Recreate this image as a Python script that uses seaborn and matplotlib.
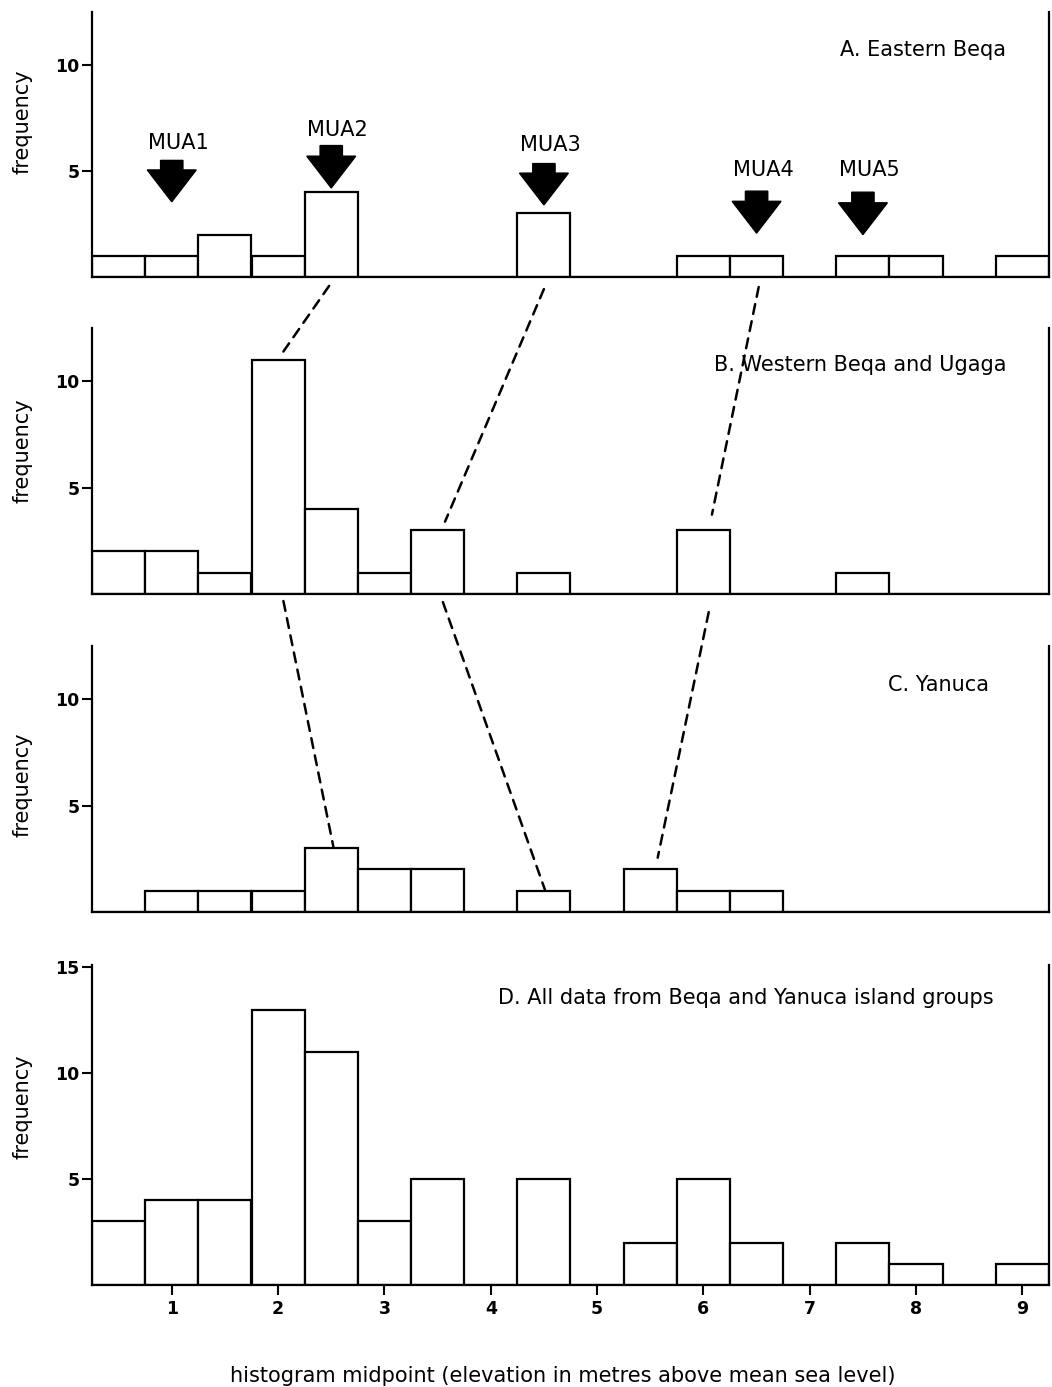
"""Elevation histograms of notches for Beqa and Yanuca island groups."""

import numpy as np
import matplotlib.pyplot as plt
from matplotlib.patches import ConnectionPatch
import seaborn as sns

# histogram midpoints (m above mean sea level), bin width 0.5
midpoints = [0.5, 1.0, 1.5, 2.0, 2.5, 3.0, 3.5, 4.0, 4.5,
             5.0, 5.5, 6.0, 6.5, 7.0, 7.5, 8.0, 8.5, 9.0]

eastern_beqa = [1, 1, 2, 1, 4, 0, 0, 0, 3, 0, 0, 1, 1, 0, 1, 1, 0, 1]
western_beqa = [2, 2, 1, 11, 4, 1, 3, 0, 1, 0, 0, 3, 0, 0, 1, 0, 0, 0]
yanuca = [0, 1, 1, 1, 3, 2, 2, 0, 1, 0, 2, 1, 1, 0, 0, 0, 0, 0]
all_data = [3, 4, 4, 13, 11, 3, 5, 0, 5, 0, 2, 5, 2, 0, 2, 1, 0, 1]

panel_titles = ["A. Eastern Beqa",
                "B. Western Beqa and Ugaga",
                "C. Yanuca",
                "D. All data from Beqa and Yanuca island groups"]
panel_counts = [eastern_beqa, western_beqa, yanuca, all_data]
panel_title_y = [10.7, 10.75, 10.66, 13.54]
panel_title_x = [8.85, 8.85, 8.69, 8.73]
panel_ylabel_y = [0.585, 0.54, 0.48, 0.556]

# MUA arrows in panel A: label, x, arrow top, arrow tip, label height
mua_labels = ["MUA1", "MUA2", "MUA3", "MUA4", "MUA5"]
mua_x = [1.0, 2.5, 4.5, 6.5, 7.5]
mua_top = [5.5, 6.2, 5.35, 4.05, 4.0]
mua_tip = [3.55, 4.2, 3.4, 2.07, 2.0]
mua_label_y = [6.3, 6.93, 6.23, 5.05, 5.05]

# dashed correlation lines: (upper panel, x, y) -> (lower panel, x, y)
links = [
    (0, 2.48, -0.42, 1, 2.02, 11.18),
    (0, 4.50, -0.57, 1, 3.57, 3.40),
    (0, 6.52, -0.47, 1, 6.08, 3.73),
    (1, 2.05, -0.33, 2, 2.52, 3.07),
    (1, 3.55, -0.38, 2, 4.51, 1.04),
    (1, 6.05, -0.85, 2, 5.57, 2.55),
]

sns.set_style("ticks", rc={"text.color": "black", "axes.labelcolor": "black",
                           "xtick.color": "black", "ytick.color": "black",
                           "axes.edgecolor": "black"})
plt.rcParams["font.family"] = ["DejaVu Sans"]

W, H = 1052, 1387
fig = plt.figure(figsize=(W / 100, H / 100), dpi=100)

left, width = 92 / W, 957 / W
boxes = [(12, 277), (328, 594), (646, 912), (965, 1285)]
axes = []
for top, bottom in boxes:
    axes.append(fig.add_axes([left, 1 - bottom / H, width, (bottom - top) / H]))

for i, ax in enumerate(axes):
    sns.histplot(x=midpoints, weights=panel_counts[i], binwidth=0.5,
                 binrange=(0.25, 9.25), ax=ax, color="white",
                 edgecolor="black", linewidth=1.6, alpha=1)
    ax.set_xlim(0.25, 9.25)
    if i < 3:
        ax.set_ylim(0, 12.5)
        ax.set_yticks([5, 10])
        ax.tick_params(axis="x", bottom=False, labelbottom=False)
    else:
        ax.set_ylim(0, 15.1)
        ax.set_yticks([5, 10, 15])
        ax.set_xticks(range(1, 10))
        ax.tick_params(axis="x", length=7, width=1.5, pad=4, labelsize=12.5)
        for lab in ax.get_xticklabels():
            lab.set_fontweight("bold")
    ax.set_xlabel("")
    ax.tick_params(axis="y", length=7, width=1.5, pad=2, labelsize=12.5)
    for lab in ax.get_yticklabels():
        lab.set_fontweight("bold")
    ax.set_ylabel("frequency", fontsize=15)
    ax.yaxis.set_label_coords(-0.062, panel_ylabel_y[i])
    ax.spines["top"].set_visible(False)
    for side in ["left", "right", "bottom"]:
        ax.spines[side].set_linewidth(1.6)
    ax.text(panel_title_x[i], panel_title_y[i], panel_titles[i],
            ha="right", va="center", fontsize=15)

fig.text(563 / W, 1 - 1376 / H,
         "histogram midpoint (elevation in metres above mean sea level)",
         ha="center", va="center", fontsize=15)

# MUA arrows
axA = axes[0]
for lab, x, top, tip, ly in zip(mua_labels, mua_x, mua_top, mua_tip, mua_label_y):
    axA.arrow(x, top, 0, tip - top, width=0.21, head_width=0.46,
              head_length=1.5, length_includes_head=True,
              fc="black", ec="black")
    axA.text(x + 0.06, ly, lab, ha="center", va="center", fontsize=15)

# dashed lines between panels
for a1, x1, y1, a2, x2, y2 in links:
    con = ConnectionPatch(xyA=(x1, y1), coordsA=axes[a1].transData,
                          xyB=(x2, y2), coordsB=axes[a2].transData,
                          linestyle=(0, (4, 3)), linewidth=1.8, color="black")
    fig.add_artist(con)

plt.savefig("out.png", dpi=100)
plt.close()
